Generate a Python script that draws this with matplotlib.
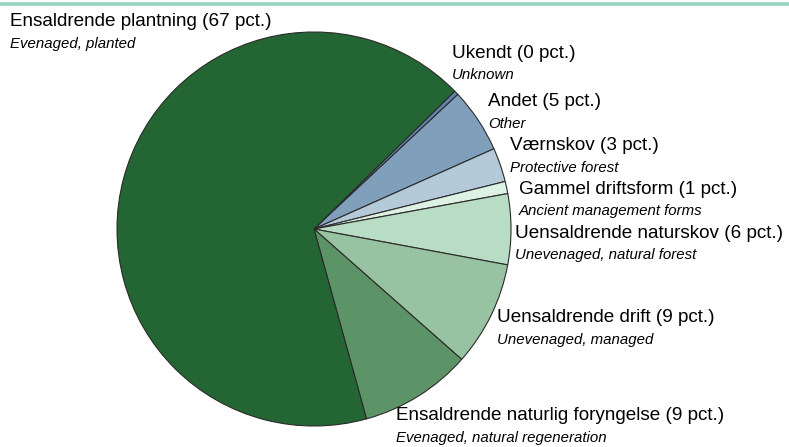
import matplotlib
matplotlib.use("Agg")
import matplotlib.pyplot as plt

# slices, clockwise from the top-right boundary
labels_dk = ['Ukendt (0 pct.)', 'Andet (5 pct.)', 'Værnskov (3 pct.)',
             'Gammel driftsform (1 pct.)', 'Uensaldrende naturskov (6 pct.)',
             'Uensaldrende drift (9 pct.)', 'Ensaldrende naturlig foryngelse (9 pct.)',
             'Ensaldrende plantning (67 pct.)']
labels_en = ['Unknown', 'Other', 'Protective forest', 'Ancient management forms',
             'Unevenaged, natural forest', 'Unevenaged, managed',
             'Evenaged, natural regeneration', 'Evenaged, planted']
shares = [0.36, 5.3, 2.8, 1.0, 5.8, 8.6, 9.2, 67.0]
colors = ['#5f84ad', '#7f9fbb', '#b5cad8', '#ddf2e4', '#b9dcc5',
          '#98c3a2', '#5c9468', '#246534']

# label anchor points (pixels from top-left)
label_pos = [(452, 53), (488, 102), (510, 146), (519, 189), (515, 233),
             (497, 318), (396, 416), (10, 22)]
sub_gap = 22

W, H = 789, 447
fig = plt.figure(figsize=(W / 100, H / 100), dpi=100)
ax = fig.add_axes([0, 0, 1, 1])

ax.pie(shares, colors=colors, startangle=44.4, counterclock=False,
       center=(314, H - 229), radius=197,
       wedgeprops=dict(edgecolor='#2b2b2b', linewidth=0.8))
ax.set_xlim(0, W)
ax.set_ylim(0, H)
ax.set_aspect('equal')
ax.axis('off')

ax.axhline(H - 4, color='#96d4bf', lw=2.6)

for (x, y), dk, en in zip(label_pos, labels_dk, labels_en):
    ax.text(x, H - y, dk, fontsize=13.6, family='Liberation Sans',
            ha='left', va='center', color='black')
    ax.text(x, H - y - sub_gap, en, fontsize=10.8, family='Liberation Sans',
            style='italic', ha='left', va='center', color='black')

fig.savefig('out.png', dpi=100)
